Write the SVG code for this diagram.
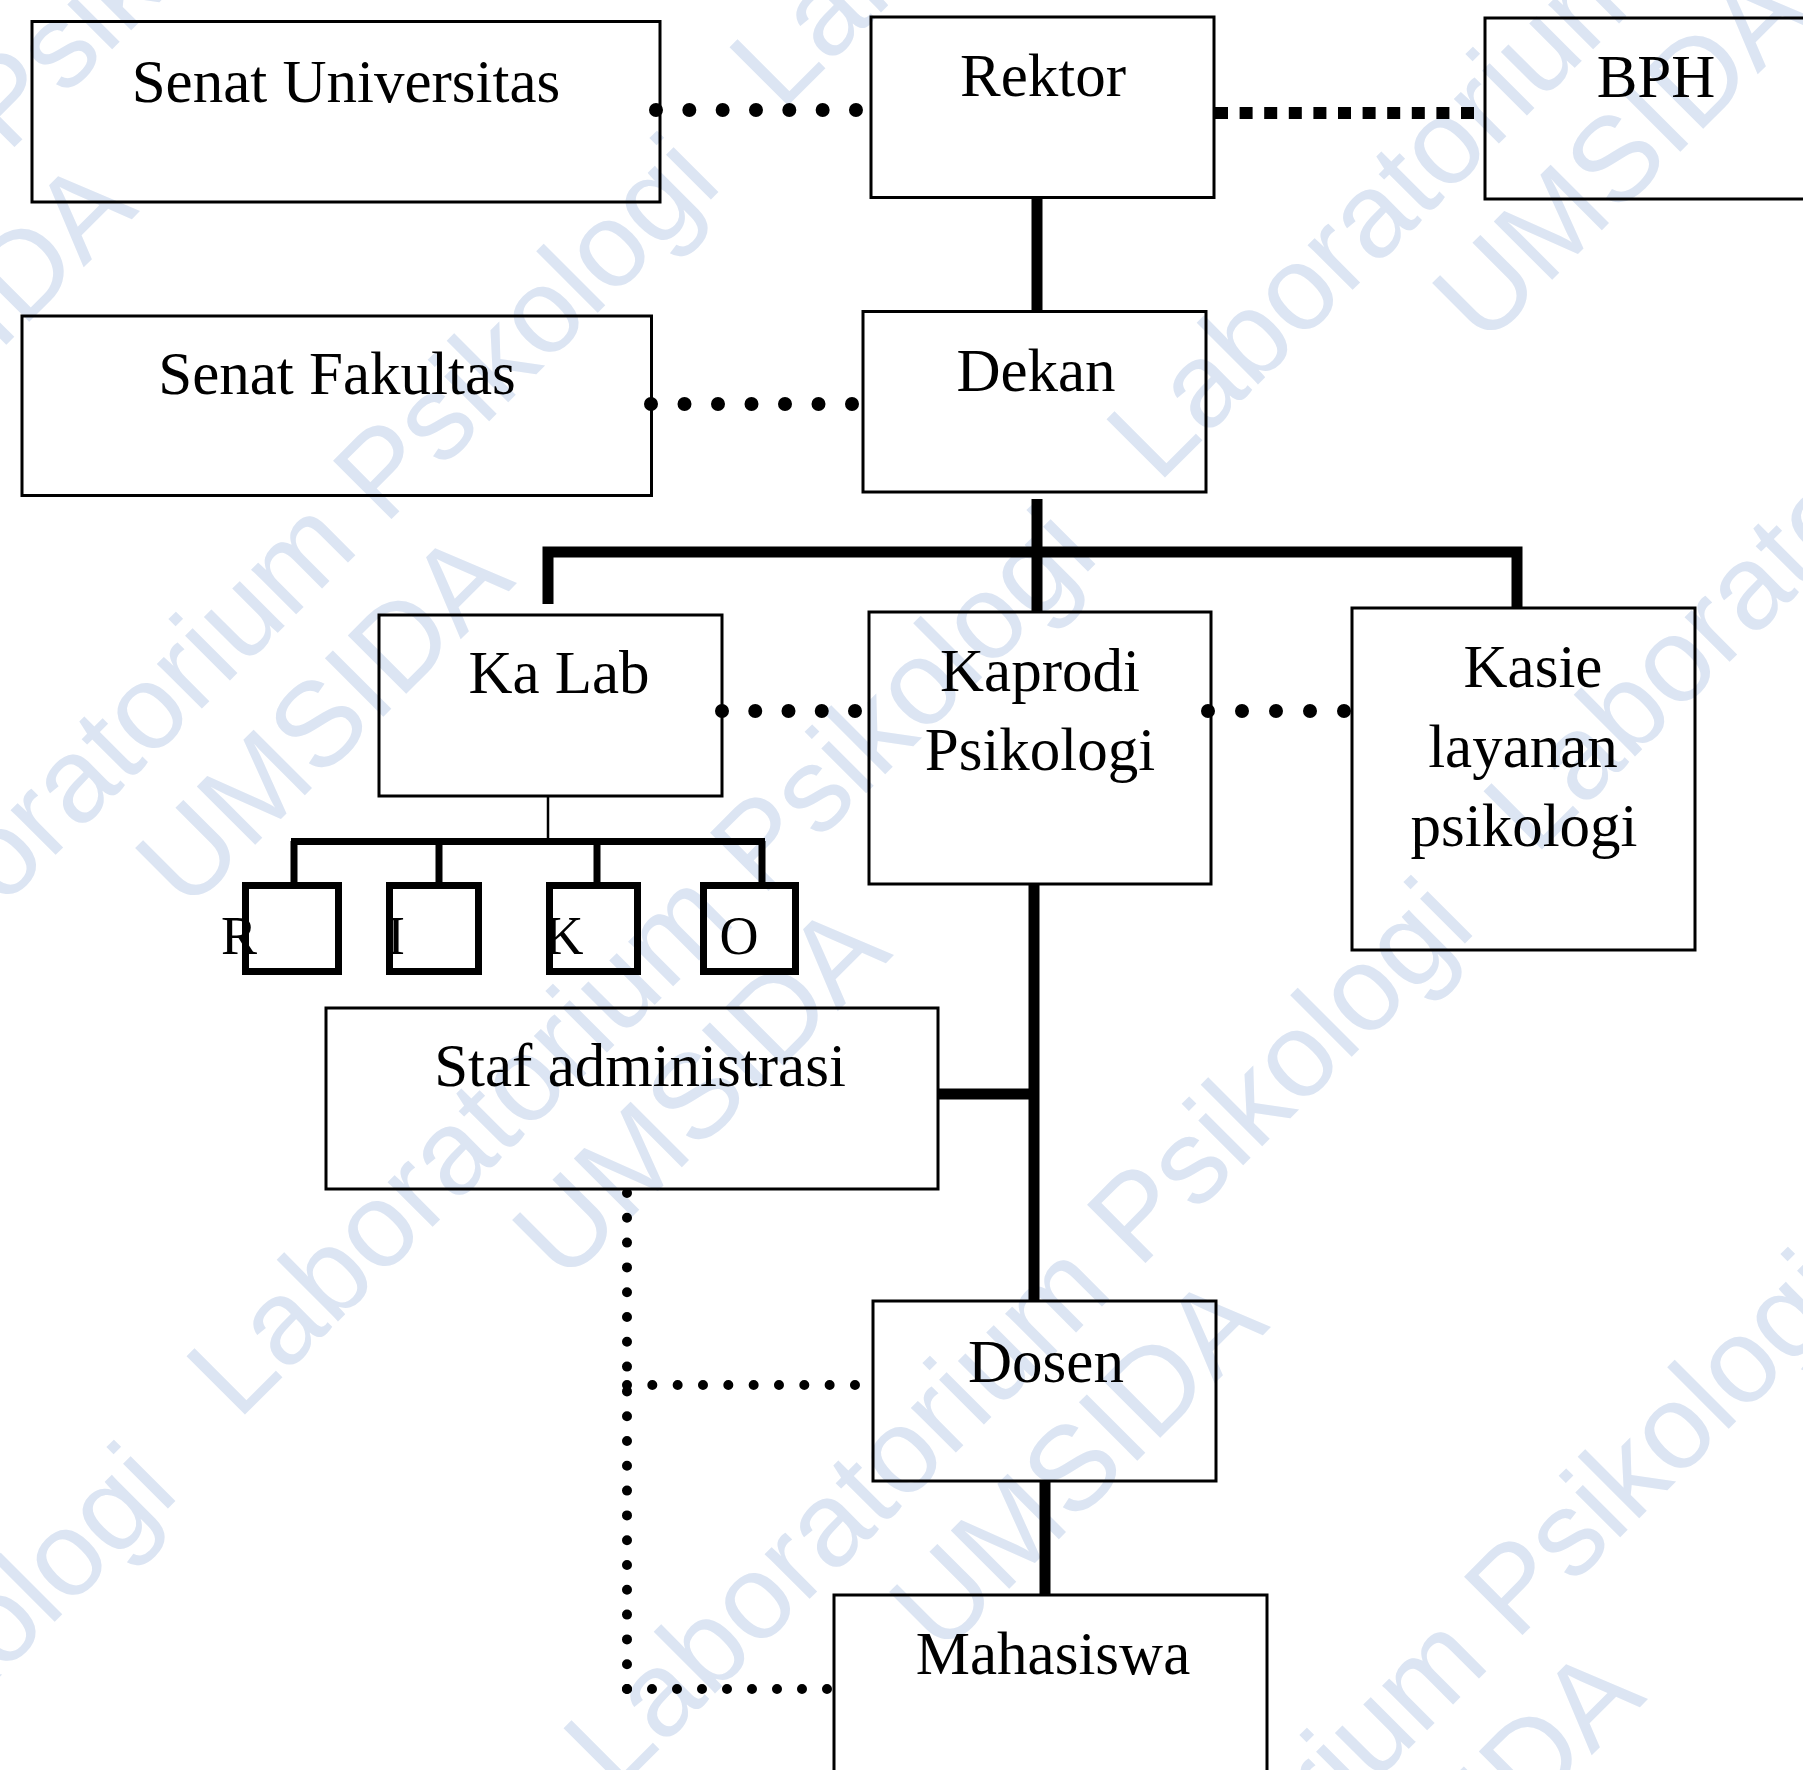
<svg xmlns="http://www.w3.org/2000/svg" width="1803" height="1770" viewBox="0 0 1803 1770">
<style>
.box{fill:none;stroke:#000;stroke-width:3}
.sbox{fill:none;stroke:#000;stroke-width:7}
.t{font-family:"Liberation Serif","Times New Roman",serif;font-size:61px;fill:#000;text-anchor:middle}
.lt{font-family:"Liberation Serif","Times New Roman",serif;font-size:54px;fill:#000;text-anchor:middle}
.wm{font-family:"Liberation Sans",Arial,sans-serif;font-size:120px;fill:#dce5f3;text-anchor:middle}
.solid{fill:none;stroke:#000;stroke-width:11;stroke-linejoin:miter}
.thin{fill:none;stroke:#000;stroke-width:2.5}
.mid{fill:none;stroke:#000;stroke-width:7}
.dot{fill:none;stroke:#000;stroke-width:14;stroke-linecap:round}
.sdot{fill:none;stroke:#000;stroke-width:10;stroke-linecap:round}
.dash{fill:none;stroke:#000;stroke-width:12;stroke-dasharray:13 11.6}
</style>
<rect width="1803" height="1770" fill="#fff"/>
<g id="watermark">
<g transform="translate(-124,277) rotate(-45)"><text class="wm" x="50" y="6">Laboratorium Psikologi</text><text class="wm" x="0" y="140">UMSIDA</text></g>
<g transform="translate(253,649) rotate(-45)"><text class="wm" x="50" y="6">Laboratorium Psikologi</text><text class="wm" x="0" y="140">UMSIDA</text></g>
<g transform="translate(630,1021) rotate(-45)"><text class="wm" x="50" y="6">Laboratorium Psikologi</text><text class="wm" x="0" y="140">UMSIDA</text></g>
<g transform="translate(1007,1393) rotate(-45)"><text class="wm" x="50" y="6">Laboratorium Psikologi</text><text class="wm" x="0" y="140">UMSIDA</text></g>
<g transform="translate(1384,1765) rotate(-45)"><text class="wm" x="50" y="6">Laboratorium Psikologi</text><text class="wm" x="0" y="140">UMSIDA</text></g>
<g transform="translate(1173,-288) rotate(-45)"><text class="wm" x="50" y="6">Laboratorium Psikologi</text><text class="wm" x="0" y="140">UMSIDA</text></g>
<g transform="translate(1550,84) rotate(-45)"><text class="wm" x="50" y="6">Laboratorium Psikologi</text><text class="wm" x="0" y="140">UMSIDA</text></g>
<g transform="translate(1927,456) rotate(-45)"><text class="wm" x="50" y="6">Laboratorium Psikologi</text><text class="wm" x="0" y="140">UMSIDA</text></g>
<g transform="translate(-290,1958) rotate(-45)"><text class="wm" x="50" y="6">Laboratorium Psikologi</text><text class="wm" x="0" y="140">UMSIDA</text></g>
</g>
<g id="connectors">
<line class="dot" x1="656" y1="110" x2="856.5" y2="110" stroke-dasharray="0 33.33"/>
<line class="dot" x1="651" y1="404" x2="852.5" y2="404" stroke-dasharray="0 33.5"/>
<line class="dash" x1="1215" y1="113" x2="1476" y2="113"/>
<line class="solid" x1="1037" y1="197" x2="1037" y2="311"/>
<line class="solid" x1="1037" y1="499" x2="1037" y2="612"/>
<path class="solid" d="M548,604 V552 H1517 V608"/>
<line class="dot" x1="722" y1="711" x2="855.5" y2="711" stroke-dasharray="0 33.25"/>
<line class="dot" x1="1208" y1="711" x2="1344.5" y2="711" stroke-dasharray="0 34"/>
<line class="thin" x1="548" y1="796" x2="548" y2="839"/>
<line class="mid" x1="291" y1="841.5" x2="765" y2="841.5"/>
<line class="mid" x1="294" y1="841" x2="294" y2="883"/>
<line class="mid" x1="439" y1="841" x2="439" y2="883"/>
<line class="mid" x1="597" y1="841" x2="597" y2="883"/>
<line class="mid" x1="762" y1="841" x2="762" y2="883"/>
<line class="solid" x1="1034" y1="884" x2="1034" y2="1301"/>
<line class="solid" x1="938" y1="1094" x2="1034" y2="1094"/>
<line class="solid" x1="1045" y1="1481" x2="1045" y2="1595"/>
<line class="sdot" x1="627" y1="1193" x2="627" y2="1689.5" stroke-dasharray="0 24.8"/>
<line class="sdot" x1="627" y1="1385" x2="855.5" y2="1385" stroke-dasharray="0 25.33"/>
<line class="sdot" x1="627" y1="1689" x2="827.5" y2="1689" stroke-dasharray="0 25"/>
</g>
<g id="senat-universitas"><rect class="box" x="32" y="21.5" width="628" height="180.5"/><text class="t" x="346" y="102">Senat Universitas</text></g>
<g id="rektor"><rect class="box" x="871" y="17" width="343" height="180.5"/><text class="t" x="1043" y="96">Rektor</text></g>
<g id="bph"><rect class="box" x="1485" y="18" width="340" height="181"/><text class="t" x="1656" y="97">BPH</text></g>
<g id="senat-fakultas"><rect class="box" x="22" y="316" width="629.5" height="179.5"/><text class="t" x="337" y="394">Senat Fakultas</text></g>
<g id="dekan"><rect class="box" x="863" y="311.5" width="343" height="180.5"/><text class="t" x="1036" y="391">Dekan</text></g>
<g id="ka-lab"><rect class="box" x="379" y="615" width="343" height="181"/><text class="t" x="559" y="693">Ka Lab</text></g>
<g id="kaprodi"><rect class="box" x="869" y="612" width="342" height="272"/><text class="t" x="1040" y="691">Kaprodi</text><text class="t" x="1040" y="770">Psikologi</text></g>
<g id="kasie"><rect class="box" x="1352" y="608" width="343" height="342"/><text class="t" x="1533" y="687">Kasie</text><text class="t" x="1523" y="767">layanan</text><text class="t" x="1524" y="846">psikologi</text></g>
<g id="lab-r"><text class="lt" x="239" y="954">R</text><rect class="sbox" x="245.5" y="885.5" width="93" height="86"/></g>
<g id="lab-i"><text class="lt" x="396" y="954">I</text><rect class="sbox" x="389.5" y="885.5" width="89" height="86"/></g>
<g id="lab-k"><text class="lt" x="564" y="954">K</text><rect class="sbox" x="549.5" y="885.5" width="88" height="86"/></g>
<g id="lab-o"><text class="lt" x="739" y="954">O</text><rect class="sbox" x="703.5" y="885.5" width="92" height="86"/></g>
<g id="staf"><rect class="box" x="326" y="1008" width="612" height="181"/><text class="t" x="640" y="1086">Staf administrasi</text></g>
<g id="dosen"><rect class="box" x="873" y="1301" width="343" height="180"/><text class="t" x="1046" y="1382">Dosen</text></g>
<g id="mahasiswa"><rect class="box" x="834" y="1595" width="433" height="200"/><text class="t" x="1053" y="1674">Mahasiswa</text></g>
</svg>
